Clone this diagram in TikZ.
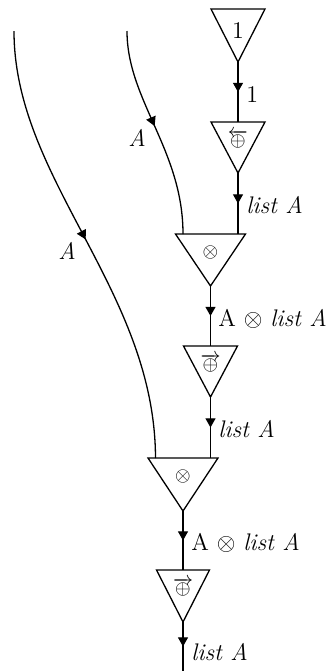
\documentclass[tikz,border=0pt]{standalone}
\usetikzlibrary{arrows.meta,decorations.markings}
\tikzset{
  wire/.style={line width=0.65pt,
    postaction={decorate},
    decoration={markings, mark=at position #1 with {\arrow{Triangle[length=4.6pt,width=5pt]}}}},
  wire/.default=0.5,
  gatebox/.style={draw, line width=0.65pt, line join=miter},
  sym/.style={inner sep=0pt, font=\normalsize},
  lab/.style={anchor=base west, inner sep=0pt, font=\large},
  wlab/.style={inner sep=0pt, font=\large},
}
% name, cx, top, halfwidth, height, symbol y offset, content
\newcommand\mygate[7]{%
  \coordinate (#1-l) at (#2-#4,#3);
  \coordinate (#1-r) at (#2+#4,#3);
  \coordinate (#1-out) at (#2,#3+#5);
  \coordinate (#1-in) at (#2,#3);
  \coordinate (#1-inl) at (#2-27.5,#3);
  \coordinate (#1-inr) at (#2+27.5,#3);
  \draw[gatebox] (#1-l) -- (#1-r) -- (#1-out) -- cycle;
  \node[sym] (#1) at (#2,#3+#6) {#7};
}
\begin{document}
\begin{tikzpicture}[x=0.5pt,y=-0.5pt]
  \useasboundingbox (0,0) rectangle (329,671);
  % gates
  \mygate{Tone}{238}{9}{27}{53}{22}{\large 1}
  \mygate{Tcons}{238}{122}{27}{51}{17}{$\overleftarrow{\oplus}$}
  \mygate{Mone}{210.5}{234}{35}{52}{18}{$\otimes$}
  \mygate{Tsnoca}{210.5}{346}{27}{51}{17}{$\overrightarrow{\oplus}$}
  \mygate{Mtwo}{183}{458}{35}{53}{18}{$\otimes$}
  \mygate{Tsnocb}{183}{570}{26.5}{52}{17}{$\overrightarrow{\oplus}$}
  % free ends
  \coordinate (inA) at (127,31);
  \coordinate (inB) at (14,31);
  \coordinate (outEnd) at (183,671);
  % vertical wires
  \draw[wire] (Tone-out) -- (Tcons-in);
  \draw[wire] (Tcons-out) -- (Mone-inr);
  \draw[wire] (Mone-out) -- (Tsnoca-in);
  \draw[wire] (Tsnoca-out) -- (Mtwo-inr);
  \draw[wire] (Mtwo-out) -- (Tsnocb-in);
  \draw[wire] (Tsnocb-out) -- (outEnd);
  % curved input wires
  \draw[wire=0.47] (inA) .. controls (127,100) and (183,150) .. (Mone-inl);
  \draw[wire=0.49] (inB) .. controls (14,180) and (155,290) .. (Mtwo-inl);
  % labels
  \node[lab] (l1) at (246,102) {1};
  \node[lab] (l2) at (246,213) {\textit{list A}};
  \node[lab] (l3) at (218,326) {A $\otimes$ \textit{list A}};
  \node[lab] (l4) at (218,437) {\textit{list A}};
  \node[lab] (l5) at (191,550) {A $\otimes$ \textit{list A}};
  \node[lab] (l6) at (191,660) {\textit{list A}};
  \node[wlab] (la) at (137,138) {\textit{A}};
  \node[wlab] (lb) at (67,251) {\textit{A}};
\end{tikzpicture}
\end{document}
